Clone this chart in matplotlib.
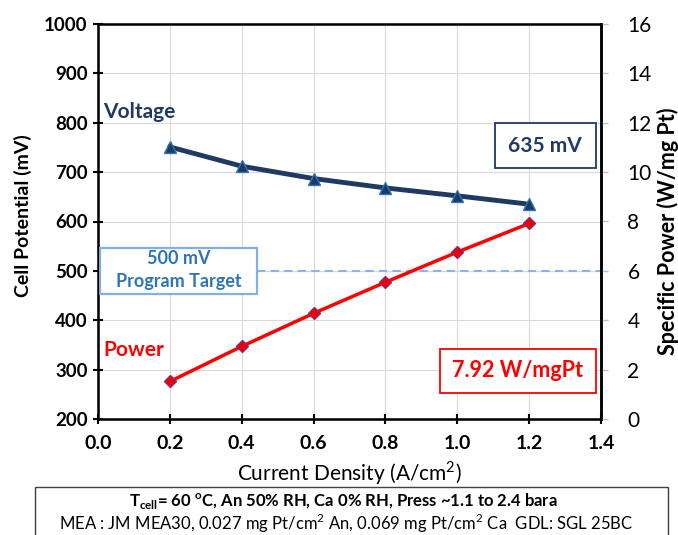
import numpy as np
import matplotlib.pyplot as plt
from matplotlib.patches import Rectangle

# data
current_density = [0.2, 0.4, 0.6, 0.8, 1.0, 1.2]
voltage_mv = [751, 712, 687, 668, 652, 635]
power_w_mgpt = [1.52, 2.94, 4.28, 5.54, 6.76, 7.92]
target_mv = 500

navy = '#1F3864'
red = '#FF0000'
blue = '#2E75B6'

plt.rcParams['font.family'] = ['Lato', 'DejaVu Sans']

fig = plt.figure(figsize=(6.78, 5.35), dpi=100)
ax = fig.add_axes([98 / 678, 1 - 419 / 535, 503 / 678, 395 / 535])
ax2 = ax.twinx()

ax.set_xlim(0, 1.4)
ax.set_ylim(200, 1000)
ax2.set_ylim(0, 16)

ax.grid(True, color='#D9D9D9', linewidth=0.8)
ax.set_axisbelow(True)

ax.plot(current_density, voltage_mv, color=navy, linewidth=3.5, marker='^',
        markersize=9, markerfacecolor=navy, markeredgecolor='#2E75B6', zorder=3)
ax2.plot(current_density, power_w_mgpt, color=red, linewidth=2.5, marker='D',
         markersize=6.5, markerfacecolor='#E8000B', markeredgecolor='#8E2A6B', zorder=3)

ax.plot([0.443, 1.4], [target_mv, target_mv], color='#8DB4E2', linestyle='--',
        linewidth=1.5, dashes=(4, 2.5), zorder=2)

ax.set_xticks(np.arange(0, 1.41, 0.2))
ax.set_xticklabels([f'{v:.1f}' for v in np.arange(0, 1.41, 0.2)],
                   fontsize=14, fontweight='bold')
ax.set_yticks(np.arange(200, 1001, 100))
ax.set_yticklabels([str(v) for v in range(200, 1001, 100)],
                   fontsize=13.5, fontweight='bold')
ax2.set_yticks(np.arange(0, 17, 2))
ax2.set_yticklabels([str(v) for v in range(0, 17, 2)], fontsize=15)
ax.tick_params(axis='both', direction='inout', length=7, width=1.5, pad=4)
ax.tick_params(axis='x', pad=8)
ax2.tick_params(axis='y', direction='out', length=5, width=1, color='#BFBFBF', pad=14)

for side in ['left', 'bottom', 'top', 'right']:
    ax.spines[side].set_linewidth(1.8)
ax2.spines['right'].set_linewidth(1.8)

ax.set_xlabel('Current Density (A/cm$^\\mathregular{2}$)', fontsize=15, labelpad=5)
ax.set_ylabel('Cell Potential (mV)', fontsize=14, fontweight='bold')
ax.yaxis.set_label_coords(-66 / 503, 0.515)
ax2.set_ylabel('Specific Power (W/mg Pt)', fontsize=15.5, fontweight='bold')
ax2.yaxis.set_label_coords(1 + 56 / 503, 0.476)

ax.text(0.014, 821, 'Voltage', color=navy, fontsize=15, fontweight='bold',
        ha='left', va='center')
ax.text(0.016, 340, 'Power', color=red, fontsize=15, fontweight='bold',
        ha='left', va='center')

# annotation boxes
ax.add_patch(Rectangle((1.104, 708), 0.282, 91, facecolor='white', edgecolor=navy,
                       linewidth=1.3, zorder=4))
ax.text(1.245, 752, '635 mV', color=navy, fontsize=15, fontweight='bold',
        ha='center', va='center', zorder=5)

ax.add_patch(Rectangle((0.951, 253), 0.435, 89, facecolor='white', edgecolor=red,
                       linewidth=1.3, zorder=4))
ax.text(1.168, 298, '7.92 W/mgPt', color=red, fontsize=15.5, fontweight='bold',
        ha='center', va='center', zorder=5)

ax.add_patch(Rectangle((0.006, 454), 0.437, 93, facecolor='white', edgecolor='#7FB2E0',
                       linewidth=1.6, zorder=4))
ax.text(0.224, 502, '500 mV\nProgram Target', color=blue, fontsize=13, fontweight='bold',
        ha='center', va='center', linespacing=1.45, zorder=5)

# footer box with test conditions
fig.patches.append(Rectangle((35 / 678, -0.02), 633 / 678, 59 / 535, transform=fig.transFigure,
                             facecolor='white', edgecolor='#404040', linewidth=1))
fig.text(343 / 678, 1 - 502 / 535,
         'T$_{\\mathregular{cell}}$= 60 $^{\\mathregular{o}}$C, An 50% RH, Ca 0% RH, Press ~1.1 to 2.4 bara',
         ha='center', va='center', fontsize=12, fontweight='bold')
fig.text(346 / 678, 1 - 523 / 535,
         'MEA : JM MEA30, 0.027 mg Pt/cm$^{\\mathregular{2}}$ An, 0.069 mg Pt/cm$^{\\mathregular{2}}$ Ca  GDL: SGL 25BC',
         ha='center', va='center', fontsize=12)

fig.savefig('out.png', dpi=100)
